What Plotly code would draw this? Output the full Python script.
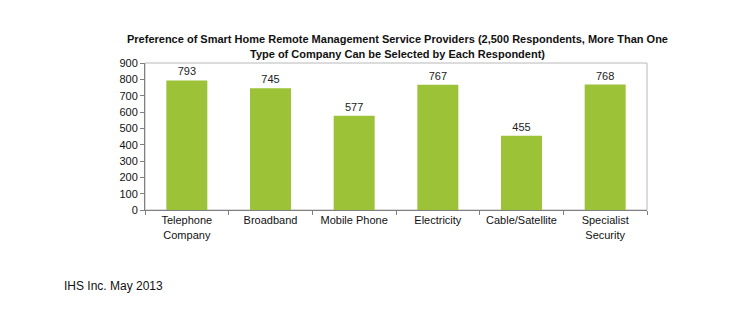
import plotly.graph_objects as go

categories = ["Telephone<br>Company", "Broadband", "Mobile Phone", "Electricity",
              "Cable/Satellite", "Specialist<br>Security"]
respondents = [793, 745, 577, 767, 455, 768]
y_ticks = [0, 100, 200, 300, 400, 500, 600, 700, 800, 900]

FONT = "Arial, 'Liberation Sans', sans-serif"
BAR_GREEN = "#9CC238"

fig = go.Figure(
    go.Bar(
        x=categories,
        y=respondents,
        marker=dict(color=BAR_GREEN, line=dict(width=0)),
        text=[str(v) for v in respondents],
        textposition="outside",
        textfont=dict(family=FONT, size=11, color="#222222"),
        cliponaxis=False,
    )
)

fig.update_layout(
    width=750,
    height=330,
    margin=dict(l=145, r=103, t=63, b=120),
    paper_bgcolor="white",
    plot_bgcolor="white",
    showlegend=False,
    bargap=0.51,
    font=dict(family=FONT, size=11, color="#111111"),
    title=dict(
        text="<b>Preference of Smart Home Remote Management Service Providers (2,500 Respondents, More Than One<br>"
             "Type of Company Can be Selected by Each Respondent)</b>",
        x=0.53, xanchor="center",
        y=0.869, yanchor="middle",
        font=dict(family=FONT, size=11, color="#111111"),
    ),
)

fig.update_xaxes(
    showgrid=False,
    showline=True,
    linecolor="#808080",
    linewidth=1,
    ticks="outside",
    tickson="boundaries",
    ticklen=4,
    tickcolor="#808080",
    tickfont=dict(family=FONT, size=11, color="#111111"),
)

fig.update_yaxes(
    range=[0, 900],
    tickvals=y_ticks,
    showgrid=False,
    zeroline=False,
    showline=True,
    linecolor="#808080",
    linewidth=1,
    ticks="outside",
    ticklen=4,
    tickcolor="#808080",
    tickfont=dict(family=FONT, size=11, color="#111111"),
)

# light frame around the plot area
fig.add_shape(
    type="rect", xref="paper", yref="paper",
    x0=0, y0=0, x1=1, y1=1,
    line=dict(color="#b8b8b8", width=1),
    layer="below",
)

fig.add_annotation(
    text="IHS Inc. May 2013",
    xref="paper", yref="paper",
    x=-0.165, y=-0.52, xanchor="left", yanchor="middle",
    showarrow=False,
    font=dict(family=FONT, size=12, color="#111111"),
)

fig.write_html("out.html")
